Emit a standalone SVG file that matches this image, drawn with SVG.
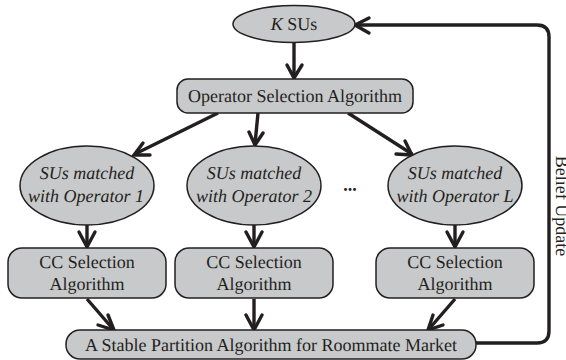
<svg xmlns="http://www.w3.org/2000/svg" width="566" height="360" viewBox="0 0 566 360">
<style>
.n{fill:#c8c9cb;stroke:#231f20;stroke-width:1.5}
.t{font-family:"Liberation Serif",serif;font-size:18px;fill:#231f20;text-anchor:middle;text-rendering:geometricPrecision}
.i{font-style:italic}
.c{fill:none;stroke:#231f20;stroke-width:3.4;stroke-linecap:butt}
.a{fill:none;stroke:#231f20;stroke-width:3.4;stroke-linecap:round;stroke-linejoin:miter}
</style>
<rect width="566" height="360" fill="#fff"/>
<g id="connectors">
<path class="c" d="M294 43V77"/><path class="a" d="M287 65L294 78L302 65"/>
<path class="c" d="M218 113L135 154"/><path class="a" d="M143 143L134 155L150 155"/>
<path class="c" d="M258 113L255 144"/><path class="a" d="M249 132L255 145L263 133"/>
<path class="c" d="M348 113L412 154"/><path class="a" d="M396 154L412 155L405 141"/>
<path class="c" d="M87 225V247"/><path class="a" d="M79 232L87 247L95 232"/>
<path class="c" d="M254 225V247"/><path class="a" d="M246 232L254 247L262 232"/>
<path class="c" d="M455 225V247"/><path class="a" d="M447 232L455 247L463 232"/>
<path class="c" d="M87 299L113 329"/><path class="a" d="M98 325L114 330L108 315"/>
<path class="c" d="M254 299V329"/><path class="a" d="M246 315L254 330L262 315"/>
<path class="c" d="M455 299L429 329"/><path class="a" d="M443 325L428 330L433 315"/>
<path class="c" d="M476 343H537Q549 343 549 331V37Q549 25 537 25H356"/><path class="a" d="M369 18L355 25L369 33"/>
</g>
<g id="n-ksus"><ellipse class="n" cx="294" cy="24" rx="61" ry="18.500"/><text class="t" x="294" y="30"><tspan class="i">K</tspan> SUs</text></g>
<g id="n-osa"><rect class="n" x="177" y="79" width="236" height="34" rx="11"/><text class="t" x="295" y="102">Operator Selection Algorithm</text></g>
<g id="n-op1"><ellipse class="n" cx="87" cy="185.500" rx="67" ry="39.500"/><text class="t i" x="87" y="179">SUs matched</text><text class="t i" x="86" y="202">with Operator 1</text></g>
<g id="n-op2"><ellipse class="n" cx="254" cy="185.500" rx="67" ry="39.500"/><text class="t i" x="254" y="179">SUs matched</text><text class="t i" x="254" y="202">with Operator 2</text></g>
<g id="n-opl"><ellipse class="n" cx="455" cy="185.500" rx="67" ry="39.500"/><text class="t i" x="455" y="179">SUs matched</text><text class="t i" x="455" y="202">with Operator L</text></g>
<text x="350" y="191" font-family="Liberation Serif, serif" font-size="18" font-weight="bold" fill="#231f20" text-anchor="middle">...</text>
<g id="n-cc1"><rect class="n" x="8" y="248" width="158" height="50" rx="14"/><text class="t" x="87" y="268">CC Selection</text><text class="t" x="87" y="290">Algorithm</text></g>
<g id="n-cc2"><rect class="n" x="175" y="248" width="158" height="50" rx="14"/><text class="t" x="254" y="268">CC Selection</text><text class="t" x="254" y="290">Algorithm</text></g>
<g id="n-ccl"><rect class="n" x="376" y="248" width="158" height="50" rx="14"/><text class="t" x="455" y="268">CC Selection</text><text class="t" x="455" y="290">Algorithm</text></g>
<g id="n-stable"><rect class="n" x="66" y="330" width="410" height="29" rx="14"/><text class="t" x="271" y="351">A Stable Partition Algorithm for Roommate Market</text></g>
<text class="t" transform="translate(556,206) rotate(90)" x="0" y="0">Belief Update</text>
</svg>
